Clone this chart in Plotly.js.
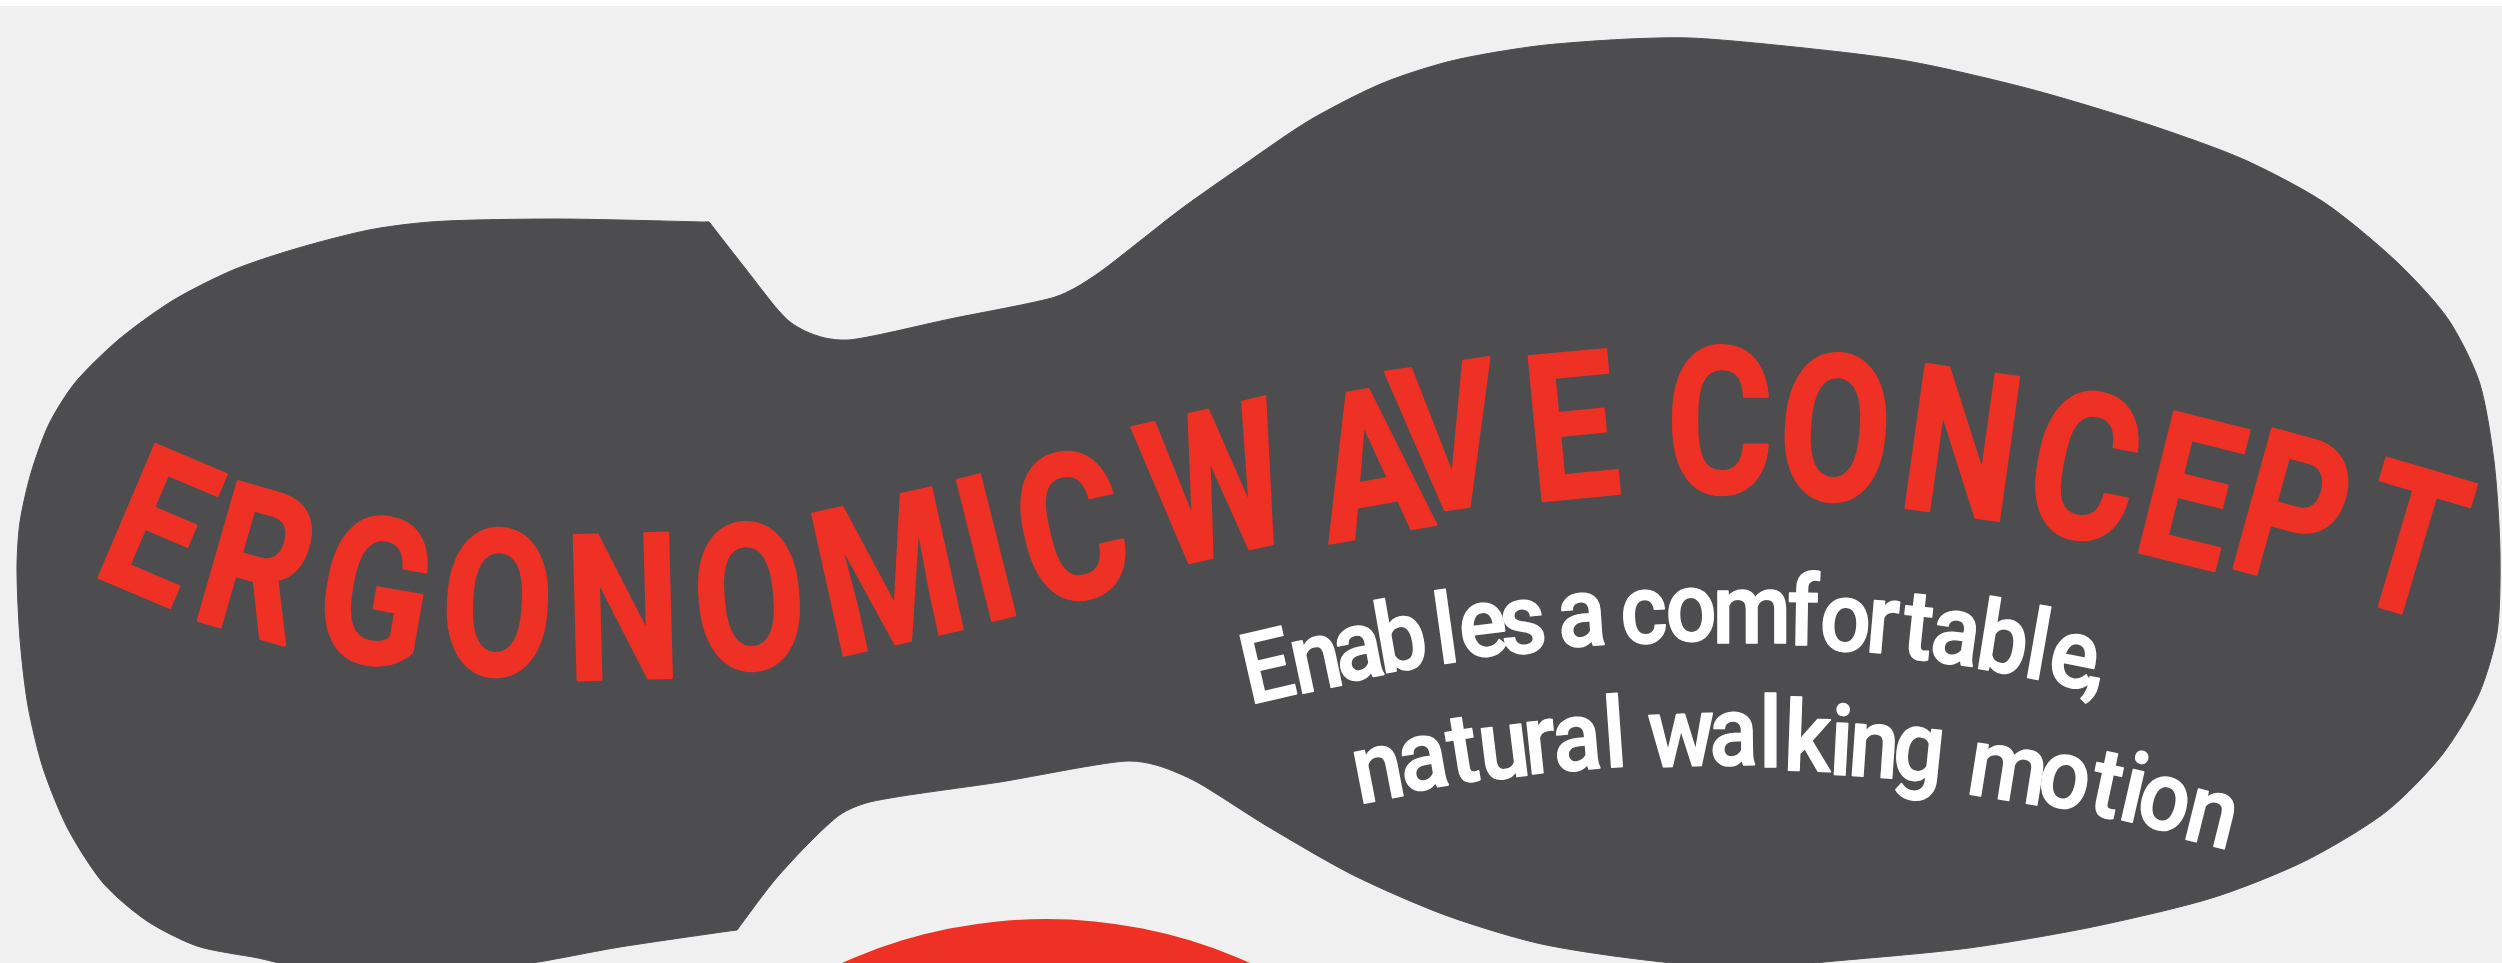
<!DOCTYPE html>
<html>
<head>
<meta charset="utf-8">
<script src="https://cdn.plot.ly/plotly-3.0.1.min.js"></script>
<style>
  html, body { margin: 0; padding: 0; background: #f0f0f0; overflow: hidden; }
  #chart { width: 2502px; height: 963px; }
</style>
</head>
<body>
<div id="chart"></div>
<script>
// ---- Sole outline (pixel coordinates) ----
const soleX = [709, 713, 745, 778, 790, 805, 825, 848, 950, 1055, 1075, 1100, 1140, 1181, 1242, 1310, 1383, 1451, 1537, 1629, 1690, 1785, 1907, 2030, 2153, 2245, 2325, 2399, 2448, 2479, 2494, 2500, 2497, 2479, 2442, 2387, 2307, 2215, 2092, 1969, 1846, 1740, 1629, 1537, 1445, 1353, 1267, 1193, 1156, 1129, 1000, 866, 841, 811, 774, 740, 737, 733, 620, 510, 400, 300, 258, 197, 147, 104, 68, 43, 28, 20, 17, 20, 31, 49, 74, 117, 172, 233, 295, 369, 430, 553, 705, 709];
const soleY = [222, 227, 268, 310, 322, 331, 338, 340, 319, 297, 288, 272, 241, 209, 166, 120, 83, 61, 46, 39, 38, 46, 61, 89, 126, 160, 203, 264, 319, 381, 461, 553, 633, 694, 755, 811, 860, 897, 927, 948, 960, 968, 958, 943, 915, 875, 826, 780, 765, 761, 782, 803, 814, 841, 881, 926, 930, 930.5, 947, 966, 968, 967, 958, 946, 921, 884, 829, 768, 706, 639, 565, 522, 473, 424, 384, 341, 301, 270, 249, 230, 222, 219, 222, 222];

// ---- Red disc peeking at the bottom ----
const discCenter = [1046, 1414];
const discRadius = 495;

// ---- Title letters ----
const titleChars = ['E','R','G','O','N','O','M','I','C','W','A','V','E','C','O','N','C','E','P','T'];
const titleX = [158.7, 257.5, 375.5, 497.4, 623.4, 749.4, 888, 987, 1071.8, 1215.8, 1370.3, 1447, 1571.7, 1719.6, 1835.3, 1961.8, 2084.7, 2190.6, 2292.9, 2410.2];
const titleY = [527.4, 565, 593, 605.5, 609.2, 599.4, 574.8, 550.9, 529.7, 485.8, 465.2, 439.1, 428.4, 423.5, 430.2, 445.9, 468.3, 493.5, 512.8, 543.8];
const titleAngle = [23, 16, 10, 3, -1.5, -5, -12.5, -14, -13, -13, -10, -8, -5.5, 0, 4, 8, 11, 14, 15.5, 16.5];

// ---- Subtitle letters (baseline point under each glyph) ----
const subChars = ['E','n','a','b','l','e','s','a','c','o','m','f','o','r','t','a','b','l','e',',',
                  'n','a','t','u','r','a','l','w','a','l','k','i','n','g','m','o','t','i','o','n'];
const subBaseX = [1274, 1322, 1364, 1406, 1450, 1487, 1525, 1584, 1645, 1692, 1751, 1803, 1844, 1881, 1915, 1952, 1998, 2033, 2069, 2092,
                  1384, 1428, 1468, 1508, 1543, 1579, 1617, 1683, 1734, 1770, 1807, 1840, 1872, 1916, 2003, 2060, 2101, 2127, 2158, 2205];
const subBaseY = [699, 689, 678, 670, 662.5, 656, 652.5, 646, 642.7, 641, 643.5, 645.5, 650.7, 653, 659, 664, 672, 679, 686, 688,
                  799.5, 789, 782, 777.5, 773, 769.5, 766.5, 765.5, 765.5, 767.5, 771, 775, 777.3, 780, 800, 807, 816.7, 821, 829.3, 844];
const subAngle = [-13, -12, -11, -10, -8, -7, -6, -4, -3, -2, 0, 1, 3, 5, 6, 8, 9, 10, 11, 12,
                  -11, -10, -9, -7, -6, -5, -4, -2, -1, 0, 2, 3, 4, 6, 9, 11, 12, 13, 14, 14];

const W = 2502, H = 963;
const FONT = 'Roboto, "Liberation Sans", sans-serif';
const RED = '#ee3124', WHITE = '#ffffff', SOLE = '#4d4d4f';
const titleSize = 204, titleSqueeze = 0.8, titleStroke = 2.5;
const subSize = 98, subSqueeze = 0.92, subStroke = 1.5, subCenterLift = 0.342;

const annotations = [];
titleChars.forEach((ch, i) => {
  annotations.push({
    x: titleX[i], y: titleY[i], xref: 'x', yref: 'y',
    text: ch, showarrow: false, textangle: titleAngle[i],
    xanchor: 'center', yanchor: 'middle',
    font: { family: FONT, size: titleSize, color: RED, weight: 700 }
  });
});
const d = subCenterLift * subSize;
subChars.forEach((ch, i) => {
  const t = subAngle[i] * Math.PI / 180;
  annotations.push({
    x: subBaseX[i] + d * Math.sin(t), y: subBaseY[i] - d * Math.cos(t), xref: 'x', yref: 'y',
    text: ch, showarrow: false, textangle: subAngle[i],
    xanchor: 'center', yanchor: 'middle',
    font: { family: FONT, size: subSize, color: WHITE, weight: 500 }
  });
});

const traces = [{
  x: soleX, y: soleY, type: 'scatter', mode: 'lines',
  fill: 'toself', fillcolor: SOLE,
  line: { color: SOLE, width: 1, shape: 'spline', smoothing: 0.8 },
  hoverinfo: 'skip'
}];

const layout = {
  width: W, height: H,
  margin: { l: 0, r: 0, t: 0, b: 0, pad: 0 },
  paper_bgcolor: '#f0f0f0', plot_bgcolor: '#f0f0f0',
  showlegend: false,
  xaxis: { range: [0, W], visible: false, fixedrange: true },
  yaxis: { range: [H, 0], visible: false, fixedrange: true },
  shapes: [
    { type: 'circle', xref: 'x', yref: 'y',
      x0: discCenter[0] - discRadius, x1: discCenter[0] + discRadius,
      y0: discCenter[1] - discRadius, y1: discCenter[1] + discRadius,
      fillcolor: RED, line: { width: 0 }, layer: 'below' },
    { type: 'rect', xref: 'paper', yref: 'y', x0: 0, x1: 1, y0: 0, y1: 6,
      fillcolor: '#ffffff', line: { width: 0 }, layer: 'above' }
  ],
  annotations: annotations
};

Plotly.newPlot('chart', traces, layout, { staticPlot: true, displayModeBar: false }).then(() => {
  // condensed, heavier lettering: narrow each glyph in its own (rotated) frame
  document.querySelectorAll('#chart .annotation').forEach(g => {
    const idx = +g.getAttribute('data-index');
    const txt = g.querySelector('text.annotation-text');
    if (!txt) return;
    const isTitle = idx < titleChars.length;
    const s = isTitle ? titleSqueeze : subSqueeze;
    const bb = txt.getBBox();
    const cx = bb.x + bb.width / 2;
    txt.setAttribute('transform', 'matrix(' + s + ',0,0,1,' + (cx * (1 - s)) + ',0)');
    txt.style.stroke = isTitle ? RED : WHITE;
    txt.style.strokeWidth = (isTitle ? titleStroke : subStroke) + 'px';
    txt.style.strokeLinejoin = 'round';
  });
});
</script>
</body>
</html>
